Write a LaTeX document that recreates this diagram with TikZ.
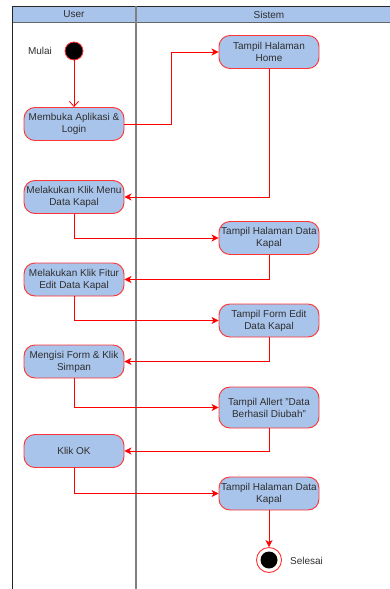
\documentclass[tikz,border=0pt]{standalone}
\usepackage{fontspec}
\setmainfont{Liberation Sans}
\usetikzlibrary{arrows.meta}
\definecolor{laneblue}{HTML}{A9C4EB}
\definecolor{flowred}{HTML}{FF0000}
\definecolor{boxred}{HTML}{FF3333}
\definecolor{txt}{HTML}{2E2E2E}
\newcommand{\dq}{\char34\relax}
\tikzset{
  act/.style={rectangle, rounded corners=11pt, draw=boxred, line width=0.9pt,
    fill=laneblue, minimum width=100pt, minimum height=33pt, inner xsep=0pt,
    align=center, text=txt, font=\fontsize{10}{12}\selectfont},
  flow/.style={draw=flowred, line width=0.8pt, -{Stealth[length=7pt,width=7pt,inset=2pt]}},
  openflow/.style={draw=flowred, line width=0.8pt, -{Straight Barb[length=5pt,width=9pt]}},
  lbl/.style={text=txt, font=\fontsize{10}{12}\selectfont},
}
\begin{document}
\begin{tikzpicture}[x=1pt, y=-1pt]
\useasboundingbox (0,0) rectangle (390,589);
% swimlane frame
\fill[laneblue] (12,6) rectangle (390,22);
\draw[line width=1pt, black!85] (12,6) -- (390,6);
\draw[line width=0.8pt, black!60] (12,22) -- (390,22);
\draw[line width=1pt, black!85] (12,6) -- (12,589);
\draw[line width=1.4pt, black!50] (136,6) -- (136,589);
\node[lbl] (hUser) at (74,14.5) {User};
\node[lbl] (hSistem) at (269,14.5) {Sistem};
% start / end
\node[circle, fill=black, draw=boxred, line width=0.8pt, minimum size=18pt, inner sep=0pt] (start) at (74,51) {};
\node[lbl] (mulai) at (40,51) {Mulai};
\node[circle, fill=white, draw=boxred, line width=0.9pt, minimum size=25pt, inner sep=0pt] (stop) at (269,560) {};
\node[circle, fill=black, minimum size=17pt, inner sep=0pt] (stopdot) at (269,560) {};
\node[lbl] (selesai) at (306.5,561) {Selesai};
% user actions
\node[act] (a) at (74,124) {Membuka Aplikasi \&\\Login};
\node[act] (b) at (74,197) {Melakukan Klik Menu\\Data Kapal};
\node[act] (c) at (74,279.5) {Melakukan Klik Fitur\\Edit Data Kapal};
\node[act] (d) at (74,361.5) {Mengisi Form \& Klik\\Simpan};
\node[act] (e) at (74,451) {Klik OK};
% system actions
\node[act] (s1) at (269,52) {Tampil Halaman\\Home};
\node[act] (s2) at (269,238) {Tampil Halaman Data\\Kapal};
\node[act] (s3) at (269,320.5) {Tampil Form Edit\\Data Kapal};
\node[act, minimum height=41pt] (s4) at (269,407.5) {Tampil Allert \dq Data\\Berhasil Diubah\dq};
\node[act] (s5) at (269,493.5) {Tampil Halaman Data\\Kapal};
% flow
\coordinate (bend) at (171,124);
\draw[openflow] (start) -- (a);
\draw[flow] (a.east) -- (bend) |- (s1.west);
\draw[flow] (s1.south) |- (b.east);
\draw[flow] (b.south) |- (s2.west);
\draw[flow] (s2.south) |- (c.east);
\draw[flow] (c.south) |- (s3.west);
\draw[flow] (s3.south) |- (d.east);
\draw[flow] (d.south) |- (s4.west);
\draw[flow] (s4.south) |- (e.east);
\draw[flow] (e.south) |- (s5.west);
\draw[flow] (s5.south) -- (stop.north);
\end{tikzpicture}
\end{document}
